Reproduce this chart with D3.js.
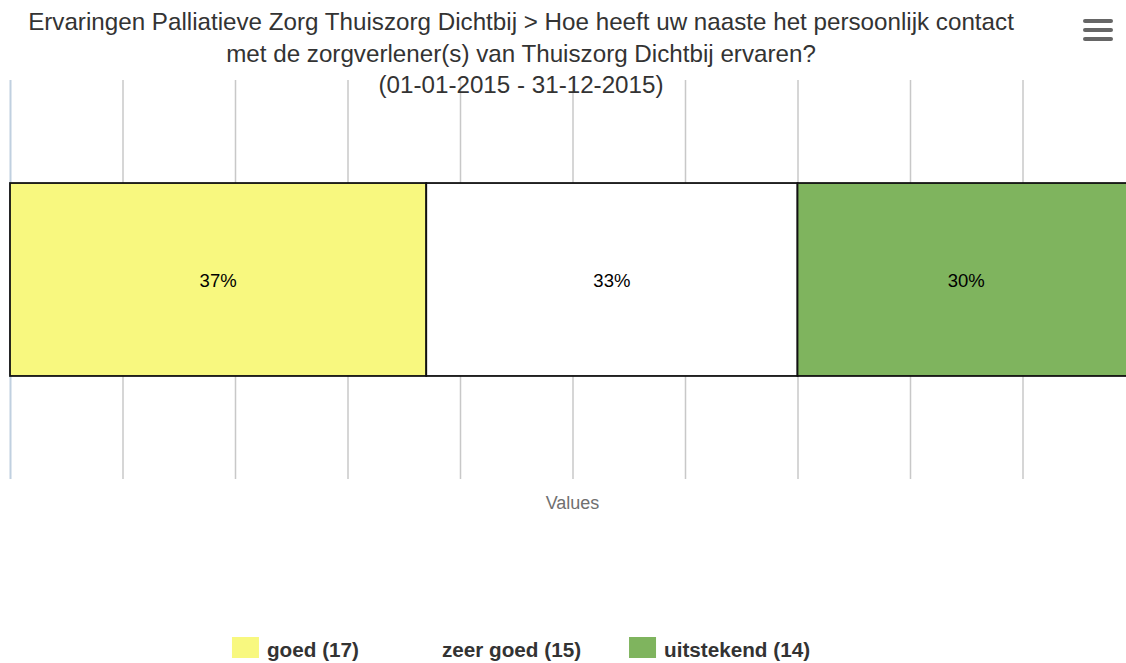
<!DOCTYPE html>
<html>
<head>
<meta charset="utf-8">
<script src="https://cdn.jsdelivr.net/npm/d3@7"></script>
<style>
  body { margin: 0; background: #fff; }
  text { font-family: "Liberation Sans", Arial, sans-serif; }
</style>
</head>
<body>
<script>
// chart data
var categories = ["goed", "zeer goed", "uitstekend"];
var counts = [17, 15, 14];
var percents = [37, 33, 30];
var colors = ["#f8f87f", "#ffffff", "#7fb45e"];
var xTicks = [0, 10, 20, 30, 40, 50, 60, 70, 80, 90, 100];
var titleLines = [
  "Ervaringen Palliatieve Zorg Thuiszorg Dichtbij > Hoe heeft uw naaste het persoonlijk contact",
  "met de zorgverlener(s) van Thuiszorg Dichtbij ervaren?",
  "(01-01-2015 - 31-12-2015)"
];
var axisTitle = "Values";

var W = 1126, H = 663;
var cx = 521; // centre used by title and legend
var plot = {left: 10, right: 1135, top: 80, bottom: 479};

var svg = d3.select("body").append("svg")
  .attr("width", W)
  .attr("height", H);

var x = d3.scaleLinear().domain([0, 100]).range([plot.left, plot.right]);
var y = d3.scaleBand().domain(["row"]).range([plot.top, plot.bottom])
  .paddingInner(0).paddingOuter(0.534);

// gridlines
var grid = svg.append("g")
  .attr("transform", "translate(0," + plot.bottom + ")")
  .call(d3.axisBottom(x).tickValues(xTicks).tickSize(-(plot.bottom - plot.top)).tickFormat(""));
grid.select(".domain").remove();
grid.selectAll(".tick line")
  .attr("stroke", "#c8c8c8")
  .attr("stroke-width", 1.5);
grid.selectAll(".tick").filter(function(d) { return d === 0; }).select("line")
  .attr("stroke", "#c0d0e0")
  .attr("stroke-width", 2);

// title
svg.append("g").selectAll("text")
  .data(titleLines)
  .enter().append("text")
  .attr("x", cx)
  .attr("y", function(d, i) { return 30 + i * 31.5; })
  .attr("text-anchor", "middle")
  .attr("fill", "#333")
  .style("font-size", "24.2px")
  .text(function(d) { return d; });

// stacked segments
var row = {};
categories.forEach(function(c, i) { row[c] = percents[i]; });
var stack = d3.stack().keys(categories)([row]);

var segs = svg.append("g").selectAll("g")
  .data(stack)
  .enter().append("g");

segs.append("rect")
  .attr("x", function(d) { return x(d[0][0]); })
  .attr("y", y("row"))
  .attr("width", function(d) { return x(d[0][1]) - x(d[0][0]); })
  .attr("height", y.bandwidth())
  .attr("fill", function(d, i) { return colors[i]; })
  .attr("stroke", "#111")
  .attr("stroke-width", 1.8);

segs.append("text")
  .attr("x", function(d) { return (x(d[0][0]) + x(d[0][1])) / 2; })
  .attr("y", y("row") + y.bandwidth() / 2 + 7)
  .attr("text-anchor", "middle")
  .attr("fill", "#000")
  .style("font-size", "18.5px")
  .text(function(d, i) { return percents[i] + "%"; });

// axis title
svg.append("text")
  .attr("x", (plot.left + plot.right) / 2)
  .attr("y", 509)
  .attr("text-anchor", "middle")
  .attr("fill", "#707070")
  .style("font-size", "18px")
  .text(axisTitle);

// legend
var legend = svg.append("g");
var items = legend.selectAll("g")
  .data(categories)
  .enter().append("g");
items.append("rect")
  .attr("width", 27)
  .attr("height", 21)
  .attr("y", 637)
  .attr("fill", function(d, i) { return colors[i]; });
items.append("text")
  .attr("x", 35)
  .attr("y", 657)
  .attr("fill", "#333")
  .style("font-size", "20.7px")
  .style("font-weight", "bold")
  .text(function(d, i) { return d + " (" + counts[i] + ")"; });

var pos = 0, offsets = [];
items.each(function() {
  offsets.push(pos);
  pos += this.getBBox().width + 48;
});
var total = pos - 48;
var start = cx - total / 2;
items.attr("transform", function(d, i) { return "translate(" + (start + offsets[i]) + ",0)"; });

// menu icon
svg.append("g").selectAll("line")
  .data([21, 30, 39])
  .enter().append("line")
  .attr("x1", 1085).attr("x2", 1111)
  .attr("y1", function(d) { return d; })
  .attr("y2", function(d) { return d; })
  .attr("stroke", "#666")
  .attr("stroke-width", 4)
  .attr("stroke-linecap", "round");
</script>
</body>
</html>
